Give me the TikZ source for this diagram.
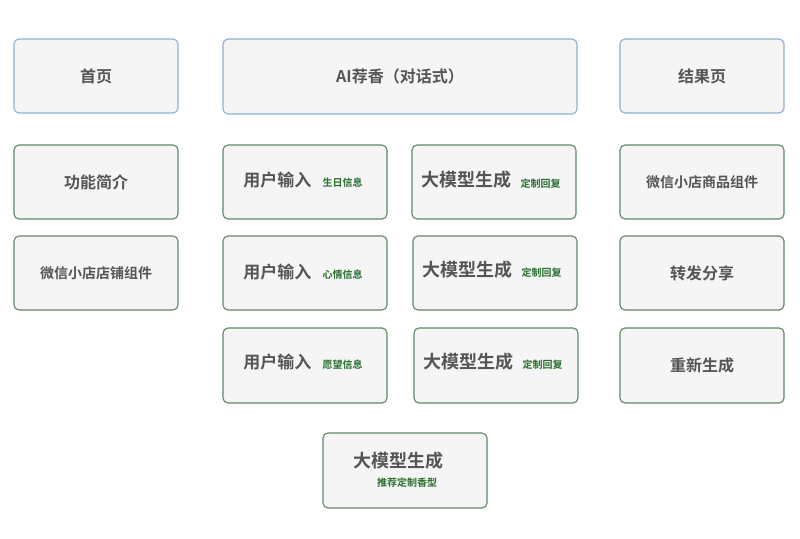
\documentclass[tikz,border=0pt]{standalone}
\usepackage{fontspec}
\setmainfont{Noto Sans CJK SC}[BoldFont={Noto Sans CJK SC Bold}]
\definecolor{gb}{RGB}{95,135,100}
\definecolor{bb}{RGB}{140,175,210}
\definecolor{gt}{RGB}{40,110,45}
\definecolor{mtc}{RGB}{85,85,85}
\begin{document}
\begin{tikzpicture}[x=1pt,y=-1pt,
  gbox/.style={draw=gb,fill=black!4,rounded corners=5pt,line width=1.1pt},
  bbox/.style={draw=bb,fill=black!4,rounded corners=5pt,line width=1.1pt},
  mt/.style={font=\bfseries\fontsize{16}{19}\selectfont,text=mtc},
  st/.style={font=\bfseries\fontsize{10}{12}\selectfont,text=gt}]
\useasboundingbox[fill=white] (0,0) rectangle (800,538);
% top row
\draw[bbox] (14,39) rectangle (178,113) node[midway,mt] (home) {首页};
\draw[bbox] (223,39) rectangle (577,114) node[midway,mt] (ai) {AI荐香（对话式）};
\draw[bbox] (620,39) rectangle (784,113) node[midway,mt] (res) {结果页};
% left column
\draw[gbox] (14,145) rectangle (178,219) node[midway,mt] (intro) {功能简介};
\draw[gbox] (14,236) rectangle (178,310) node[midway,mt,font=\bfseries\fontsize{14}{16}\selectfont] (shop) {微信小店店铺组件};
% user inputs
\draw[gbox] (223,145) rectangle (387,219) coordinate[midway] (u1c);
\node[mt,anchor=east,font=\bfseries\fontsize{17}{20}\selectfont] (u1) at (315,180) {用户输入};
\node[st,anchor=west] (u1s) at (319,183) {生日信息};
\draw[gbox] (223,236) rectangle (387,310) coordinate[midway] (u2c);
\node[mt,anchor=east,font=\bfseries\fontsize{17}{20}\selectfont] (u2) at (315,272) {用户输入};
\node[st,anchor=west] (u2s) at (319,275) {心情信息};
\draw[gbox] (223,328) rectangle (387,403) coordinate[midway] (u3c);
\node[mt,anchor=east,font=\bfseries\fontsize{17}{20}\selectfont] (u3) at (315,362) {用户输入};
\node[st,anchor=west] (u3s) at (319,365) {愿望信息};
% model
\draw[gbox] (412,145) rectangle (576,219) coordinate[midway] (m1c);
\node[mt,anchor=west,font=\bfseries\fontsize{18}{21}\selectfont] (m1) at (418,180) {大模型生成};
\node[st,anchor=west] (m1s) at (517,184) {定制回复};
\draw[gbox] (413,236) rectangle (577,310) coordinate[midway] (m2c);
\node[mt,anchor=west,font=\bfseries\fontsize{18}{21}\selectfont] (m2) at (419,270) {大模型生成};
\node[st,anchor=west] (m2s) at (518,273) {定制回复};
\draw[gbox] (414,328) rectangle (578,403) coordinate[midway] (m3c);
\node[mt,anchor=west,font=\bfseries\fontsize{18}{21}\selectfont] (m3) at (420,362) {大模型生成};
\node[st,anchor=west] (m3s) at (519,365) {定制回复};
% right column
\draw[gbox] (620,145) rectangle (784,219) node[midway,mt,font=\bfseries\fontsize{14}{16}\selectfont] (goods) {微信小店商品组件};
\draw[gbox] (620,236) rectangle (784,310) node[midway,mt] (share) {转发分享};
\draw[gbox] (620,328) rectangle (784,403) node[midway,mt] (regen) {重新生成};
% bottom
\draw[gbox] (323,433) rectangle (487,508) coordinate[midway] (fc);
\node[mt,font=\bfseries\fontsize{18}{21}\selectfont] (f) at (398,461) {大模型生成};
\node[st] (fs) at (407,483) {推荐定制香型};
\end{tikzpicture}
\end{document}
